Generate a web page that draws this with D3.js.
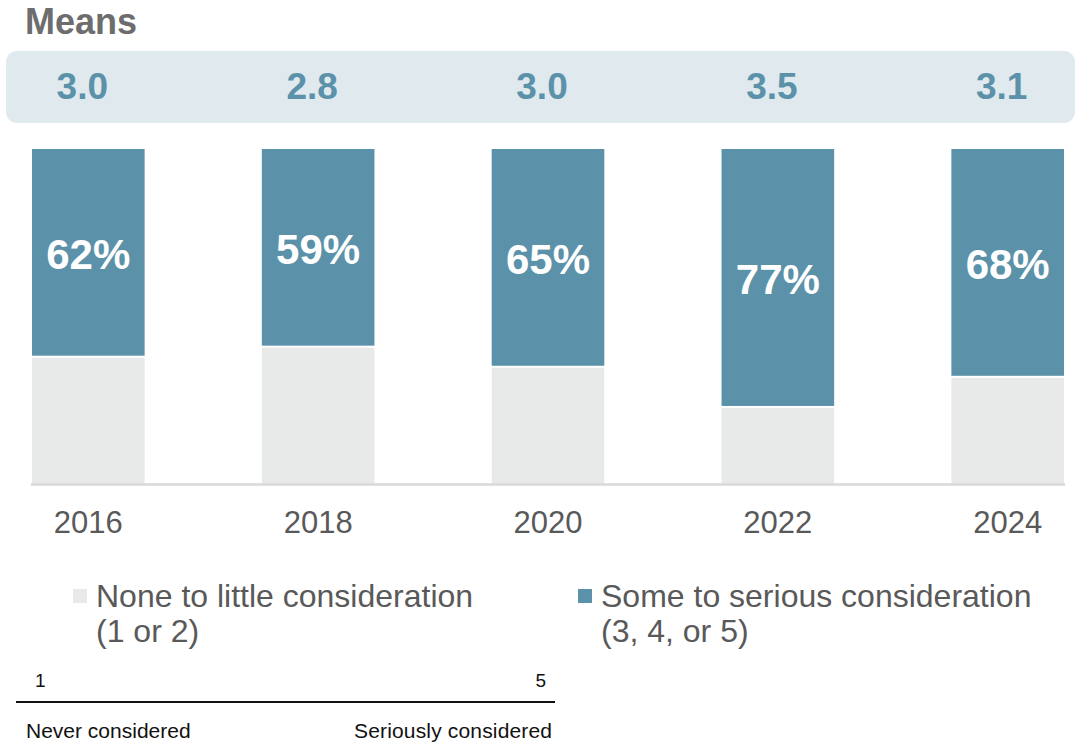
<!DOCTYPE html>
<html>
<head>
<meta charset="utf-8">
<script src="https://cdn.jsdelivr.net/npm/d3@7"></script>
<style>
  html, body { margin: 0; padding: 0; background: #fff; }
  svg { display: block; font-family: "Liberation Sans", Arial, sans-serif; }
</style>
</head>
<body>
<svg id="chart" width="1077" height="742"></svg>
<script>
// Survey years and results
const years = ["2016", "2018", "2020", "2022", "2024"];
const someToSerious = [62, 59, 65, 77, 68];   // % answering 3, 4 or 5
const means = [3.0, 2.8, 3.0, 3.5, 3.1];
const legendLabels = [
  ["None to little consideration", "(1 or 2)"],
  ["Some to serious consideration", "(3, 4, or 5)"]
];
const scaleEnds = ["1", "5"];
const scaleAnchors = ["Never considered", "Seriously considered"];

const TEAL = "#5b92a9";
const GREY = "#e8eae9";
const TEXT = "#595959";

const svg = d3.select("#chart");

const x = d3.scaleBand().domain(years).range([32, 1064]).paddingInner(0.51).paddingOuter(0);
const y = d3.scaleLinear().domain([0, 100]).range([484, 149]);

// Title
svg.append("text").attr("x", 25).attr("y", 34)
  .attr("font-size", 36).attr("font-weight", "bold").attr("fill", "#6d6d6d")
  .text("Means");

// Means band
svg.append("rect").attr("x", 6).attr("y", 51).attr("width", 1069).attr("height", 72)
  .attr("rx", 11).attr("fill", "#dfe9ee");
svg.selectAll("text.mean").data(years).join("text").attr("class", "mean")
  .attr("x", d => x(d) + x.bandwidth() / 2 - 6).attr("y", 99)
  .attr("text-anchor", "middle").attr("font-size", 37).attr("font-weight", "bold")
  .attr("fill", TEAL)
  .text((d, i) => d3.format(".1f")(means[i]));

// Stacked bars
const rows = years.map((yr, i) => ({ yr, some: someToSerious[i], none: 100 - someToSerious[i] }));
const g = svg.append("g");
g.selectAll("rect.none").data(rows).join("rect").attr("class", "none")
  .attr("x", d => x(d.yr)).attr("width", x.bandwidth())
  .attr("y", d => y(d.none) + 1).attr("height", d => y(0) - y(d.none) - 1)
  .attr("fill", GREY);
g.selectAll("rect.some").data(rows).join("rect").attr("class", "some")
  .attr("x", d => x(d.yr)).attr("width", x.bandwidth())
  .attr("y", y(100)).attr("height", d => y(d.none) - y(100) - 1)
  .attr("fill", TEAL);
g.selectAll("text.pct").data(rows).join("text").attr("class", "pct")
  .attr("x", d => x(d.yr) + x.bandwidth() / 2)
  .attr("y", d => (y(100) + y(d.none)) / 2 + 16)
  .attr("text-anchor", "middle").attr("font-size", 42).attr("font-weight", "bold")
  .attr("fill", "#fff")
  .text(d => d.some + "%");

// Baseline axis
const axis = svg.append("g").attr("transform", `translate(0,${y(0)})`)
  .call(d3.axisBottom(x).tickSize(0).tickPadding(27));
axis.select(".domain").attr("d", "M31,0.5H1065").attr("stroke", "#d9d9d9").attr("stroke-width", 2.5);
axis.selectAll(".tick text").attr("font-size", 31).attr("fill", TEXT)
  .attr("font-family", "Liberation Sans, Arial, sans-serif");

// Legend
const legendX = [73, 578];
const colors = [GREY, TEAL];
legendLabels.forEach((lines, i) => {
  const lg = svg.append("g").attr("transform", `translate(${legendX[i]},0)`);
  lg.append("rect").attr("x", 0).attr("y", 589).attr("width", 14).attr("height", 14).attr("fill", colors[i]);
  lines.forEach((t, j) => {
    lg.append("text").attr("x", 23).attr("y", 607 + j * 35)
      .attr("font-size", 32).attr("fill", TEXT).text(t);
  });
});

// Response scale
svg.append("text").attr("x", 35).attr("y", 687).attr("font-size", 19).attr("fill", "#111").text(scaleEnds[0]);
svg.append("text").attr("x", 546).attr("y", 687).attr("text-anchor", "end").attr("font-size", 19).attr("fill", "#111").text(scaleEnds[1]);
svg.append("line").attr("x1", 16).attr("x2", 555).attr("y1", 702).attr("y2", 702)
  .attr("stroke", "#111").attr("stroke-width", 2);
svg.append("text").attr("x", 26).attr("y", 738).attr("font-size", 21).attr("fill", "#111").text(scaleAnchors[0]);
svg.append("text").attr("x", 552).attr("y", 738).attr("text-anchor", "end").attr("font-size", 21)
  .attr("textLength", 198).attr("fill", "#111").text(scaleAnchors[1]);
</script>
</body>
</html>
